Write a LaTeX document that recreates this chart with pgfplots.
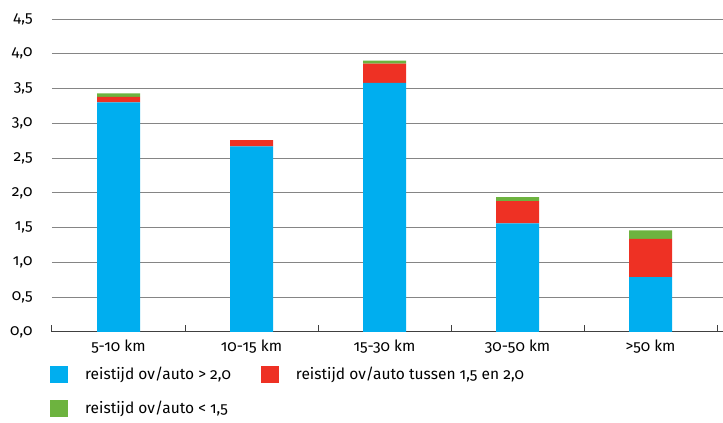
\documentclass[border=0pt]{standalone}
\usepackage{fontspec}
\setmainfont{Fira Sans}[Numbers=OldStyle]
\usepackage{pgfplots}
\pgfplotsset{compat=1.18}
\definecolor{cblue}{HTML}{00AEEF}
\definecolor{cred}{HTML}{EE3124}
\definecolor{cgreen}{HTML}{6DB33F}
\definecolor{cgrid}{HTML}{858585}
\newcommand{\tf}{\fontsize{15.5pt}{18pt}\selectfont}
\begin{document}
\tf
\begin{tikzpicture}[x=1pt,y=1pt]
\useasboundingbox (0,0) rectangle (723,423);
\begin{axis}[
  at={(52pt,91pt)}, anchor=south west,
  scale only axis, width=671pt, height=313pt,
  xmin=-0.5, xmax=4.545, ymin=0, ymax=4.5,
  ybar stacked, bar width=43pt,
  axis x line*=bottom, axis y line*=left,
  y axis line style={draw=none},
  x axis line style={draw=black!75, line width=1pt},
  ymajorgrids, grid style={cgrid, line width=1pt},
  ytick={0,0.5,...,4.5},
  xtick={0,1,2,3,4},
  xticklabels={5-10 km, 10-15 km, 15-30 km, 30-50 km, >50 km},
  minor xtick={-0.5,0.5,1.5,2.5,3.5,4.5},
  major tick length=0pt, minor tick length=7pt, tick align=inside,
  minor tick style={black!75, line width=1pt},
  /pgf/number format/.cd, fixed, fixed zerofill, precision=1, use comma, assume math mode=true,
  /pgfplots/.cd,
  yticklabel style={anchor=east, xshift=-14pt, font=\tf},
  xticklabel style={yshift=-3pt, font=\tf},
  legend columns=2,
  legend style={at={(0,0)}, anchor=north west, xshift=-2pt, yshift=-33pt, draw=none,
    font=\tf, row sep=15pt, inner sep=0pt,
    /tikz/every even column/.append style={column sep=28pt}},
  legend cell align=left,
  legend image code/.code={\fill[#1] (0pt,-8.5pt) rectangle (18pt,8.5pt);},
]
\addplot[fill=cblue, draw=none] coordinates {(0,3.30) (1,2.67) (2,3.58) (3,1.56) (4,0.79)};
\addlegendentry{\hspace{15pt}reistijd ov/auto > 2,0}
\addplot[fill=cred, draw=none] coordinates {(0,0.08) (1,0.09) (2,0.28) (3,0.32) (4,0.55)};
\addlegendentry{\hspace{15pt}reistijd ov/auto tussen 1,5 en 2,0}
\addplot[fill=cgreen, draw=none] coordinates {(0,0.05) (1,0.00) (2,0.04) (3,0.06) (4,0.12)};
\addlegendentry{\hspace{15pt}reistijd ov/auto < 1,5}
\end{axis}
\end{tikzpicture}
\end{document}
